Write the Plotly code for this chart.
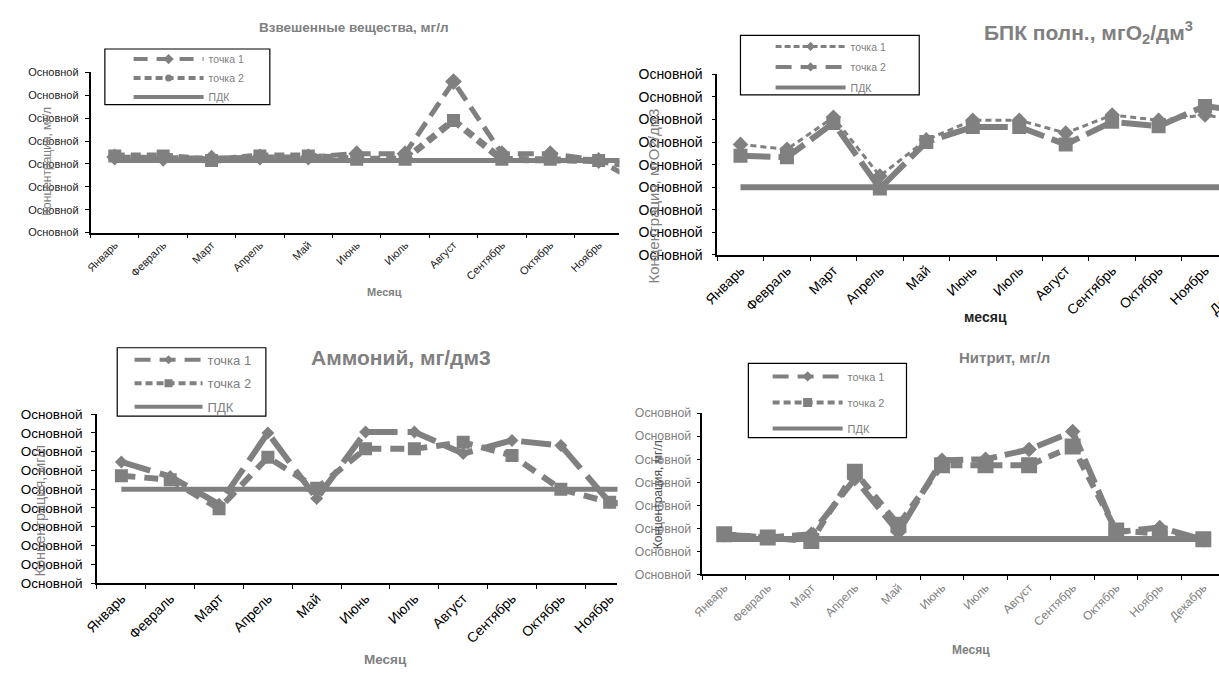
import plotly.graph_objects as go

W, H = 1219, 675

months = ["Январь", "Февраль", "Март", "Апрель", "Май", "Июнь",
          "Июль", "Август", "Сентябрь", "Октябрь", "Ноябрь", "Декабрь"]
tick_word = "Основной"
series_names = ["точка 1", "точка 2", "ПДК"]

# Panel 1: Взвешенные вещества, мг/л
vv_t1 = [3.3, 3.25, 3.25, 3.3, 3.3, 3.45, 3.45, 6.6, 3.45, 3.45, 3.15, 2.0]
vv_t2 = [3.35, 3.35, 3.15, 3.35, 3.35, 3.2, 3.2, 4.9, 3.2, 3.2, 3.15, 2.8]
vv_pdk = [3.15, 3.15, 3.15, 3.15, 3.15, 3.15, 3.15, 3.15, 3.15, 3.15, 3.15, 3.15]
vv_yticks = [0, 1, 2, 3, 4, 5, 6, 7]

# Panel 2: БПК полн., мгО2/дм3
bpk_t1 = [4.9, 4.68, 6.1, 3.5, 5.1, 5.97, 5.97, 5.4, 6.2, 5.97, 6.2, 5.85]
bpk_t2 = [4.4, 4.33, 5.85, 2.95, 5.0, 5.67, 5.67, 4.9, 5.9, 5.7, 6.6, 6.3]
bpk_pdk = [3.0, 3.0, 3.0, 3.0, 3.0, 3.0, 3.0, 3.0, 3.0, 3.0, 3.0, 3.0]
bpk_yticks = [0, 1, 2, 3, 4, 5, 6, 7, 8]

# Panel 3: Аммоний, мг/дм3
am_t1 = [6.45, 5.68, 4.2, 8.0, 4.5, 8.05, 8.05, 6.9, 7.6, 7.33, 4.3, 4.0]
am_t2 = [5.72, 5.5, 3.96, 6.7, 5.05, 7.15, 7.15, 7.5, 6.8, 5.0, 4.3, 4.0]
am_pdk = [5.0, 5.0, 5.0, 5.0, 5.0, 5.0, 5.0, 5.0, 5.0, 5.0, 5.0, 5.0]
am_yticks = [0, 1, 2, 3, 4, 5, 6, 7, 8, 9]

# Panel 4: Нитрит, мг/л
ni_t1 = [1.72, 1.6, 1.74, 4.15, 1.83, 4.95, 5.0, 5.42, 6.2, 1.83, 2.03, 1.5]
ni_t2 = [1.74, 1.6, 1.44, 4.45, 2.15, 4.74, 4.74, 4.74, 5.55, 1.9, 1.77, 1.52]
ni_pdk = [1.53, 1.53, 1.53, 1.53, 1.53, 1.53, 1.53, 1.53, 1.53, 1.53, 1.53, 1.53]
ni_yticks = [0, 1, 2, 3, 4, 5, 6, 7]

GRAY = "#808080"
FONT = "Liberation Sans, Arial, sans-serif"


def px(x):
    return x / W


def py(y):
    return 1 - y / H


fig = go.Figure()


def add_series(ax, vals, width, dash, symbol, msize):
    mode = "lines+markers" if symbol else "lines"
    tr = dict(x=months, y=vals, mode=mode, showlegend=False,
              line=dict(color=GRAY, width=width, dash=dash),
              xaxis="x" + ax, yaxis="y" + ax, hoverinfo="skip")
    if symbol:
        tr["marker"] = dict(symbol=symbol, size=msize, color=GRAY)
    fig.add_trace(go.Scatter(**tr))


def add_key(ax, leg, grp, name, width, dash, symbol, msize):
    # legend-only entry (draws nothing in the plot area)
    mode = "lines+markers" if symbol else "lines"
    tr = dict(x=[None], y=[None], name=name, mode=mode,
              line=dict(color=GRAY, width=width, dash=dash),
              xaxis="x" + ax, yaxis="y" + ax, legend=leg,
              legendgroup=grp, showlegend=True)
    if symbol:
        tr["marker"] = dict(symbol=symbol, size=msize, color=GRAY)
    fig.add_trace(go.Scatter(**tr))


# Panel 1
add_series("", vv_t1, 5, "16px,8px", "diamond", 13)
add_series("", vv_t2, 7, "10px,6px", "square", 13)
add_series("", vv_pdk, 5, "solid", None, 0)
add_key("", "legend", "a1", series_names[0], 4, "14px,9px", "diamond", 8)
add_key("", "legend", "a2", series_names[1], 4, "7px,4px", "circle", 7)
add_key("", "legend", "a3", series_names[2], 4, "solid", None, 0)
# Panel 2
add_series("2", bpk_t1, 3, "6px,4px", "diamond", 12)
add_series("2", bpk_t2, 6, "30px,8px", "square", 14)
add_series("2", bpk_pdk, 6, "solid", None, 0)
add_key("2", "legend2", "b1", series_names[0], 3, "6px,3px", "diamond", 7)
add_key("2", "legend2", "b2", series_names[1], 4, "16px,9px", "diamond", 7)
add_key("2", "legend2", "b3", series_names[2], 4, "solid", None, 0)
# Panel 3
add_series("3", am_t1, 6, "30px,10px", "diamond", 10)
add_series("3", am_t2, 6, "14px,9px", "square", 13)
add_series("3", am_pdk, 5, "solid", None, 0)
add_key("3", "legend3", "c1", series_names[0], 4, "16px,9px", "diamond", 7)
add_key("3", "legend3", "c2", series_names[1], 4, "7px,4px", "square", 8)
add_key("3", "legend3", "c3", series_names[2], 4, "solid", None, 0)
# Panel 4
add_series("4", ni_t1, 6, "26px,8px", "diamond", 12)
add_series("4", ni_t2, 6, "12px,8px", "square", 16)
add_series("4", ni_pdk, 6, "solid", None, 0)
add_key("4", "legend4", "d1", series_names[0], 4, "16px,9px", "diamond", 8)
add_key("4", "legend4", "d2", series_names[1], 4, "7px,4px", "square", 9)
add_key("4", "legend4", "d3", series_names[2], 4, "solid", None, 0)


def xax(x0, x1, rng, size, color, anchor):
    return dict(domain=[px(x0), px(x1)], type="category",
                categoryorder="array", categoryarray=months,
                range=rng, tickson="boundaries", ticks="outside",
                ticklen=4, tickcolor="black", showline=True,
                linecolor="black", linewidth=1.5, tickangle=-45,
                tickfont=dict(size=size, color=color, family=FONT),
                showgrid=False, zeroline=False, anchor=anchor)


def yax(ybot, ytop, ticks, size, color, anchor, standoff):
    return dict(domain=[py(ybot), py(ytop)], range=[ticks[0], ticks[-1]],
                tickmode="array", tickvals=ticks,
                ticktext=[tick_word for _ in ticks],
                ticks="outside", ticklen=4, tickcolor="black",
                ticklabelstandoff=standoff,
                showline=True, linecolor="black", linewidth=1.5,
                tickfont=dict(size=size, color=color, family=FONT),
                showgrid=False, zeroline=False, anchor=anchor)


def leg(x, y, size, iw, gap):
    return dict(x=px(x), y=py(y), xanchor="left", yanchor="top",
                borderwidth=0, bgcolor="rgba(0,0,0,0)",
                font=dict(size=size, color=GRAY, family=FONT),
                itemwidth=iw, tracegroupgap=gap, traceorder="grouped",
                itemclick=False, itemdoubleclick=False)


def box(x0, y0, x1, y1):
    return dict(type="rect", xref="paper", yref="paper",
                x0=px(x0), x1=px(x1), y0=py(y0), y1=py(y1),
                line=dict(color="black", width=1.2), fillcolor="white",
                layer="above")


def ann(text, x, y, size, color, bold=True, angle=0):
    t = "<b>" + text + "</b>" if bold else text
    return dict(text=t, x=px(x), y=py(y), xref="paper", yref="paper",
                showarrow=False, xanchor="center", yanchor="middle",
                textangle=angle, font=dict(size=size, color=color, family=FONT))


annotations = [
    ann("Взвешенные вещества, мг/л", 343, 20, 13.5, GRAY),
    ann("Месяц", 374, 291, 11, GRAY),
    ann("Концентрация, мг/л", 33, 157, 12, GRAY, bold=False, angle=-90),
    ann("БПК полн., мгО<sub>2</sub>/дм<sup>3</sup>", 1087, 25, 21, GRAY),
    ann("месяц", 983, 317, 14, "#222222"),
    ann("Концентрация, мгО2/дм3", 646, 193, 15, GRAY, bold=False, angle=-90),
    ann(months[11], 1232, 291, 14, "black", bold=False, angle=-45),
    ann("Аммоний, мг/дм3", 391, 358, 21, GRAY),
    ann("Месяц", 375, 667, 13.5, GRAY),
    ann("Концентрация, мг/л", 25, 515, 14.5, GRAY, bold=False, angle=-90),
    ann("Нитрит, мг/л", 1002, 358, 15, GRAY),
    ann("Месяц", 968, 658, 12, GRAY),
    ann("Концентрация, мг/л", 651, 498, 12, "#505050", bold=False, angle=-90),
]

shapes = [
    box(91, 42, 258, 99),
    box(734.5, 28, 915.5, 89),
    box(103.5, 348, 254, 418),
    box(742.5, 364, 902.6, 440),
]

fig.update_layout(
    width=W, height=H, autosize=False,
    margin=dict(l=0, r=0, t=0, b=0),
    paper_bgcolor="white", plot_bgcolor="white",
    font=dict(family=FONT),
    showlegend=True,
    xaxis=xax(76.5, 612, [-0.5, 10.43], 11, "#222222", "y"),
    yaxis=yax(230, 66, vv_yticks, 11, "#222222", "x", 4),
    xaxis2=xax(711, 1219, [-0.5, 10.3], 14, "black", "y2"),
    yaxis2=yax(253, 68, bpk_yticks, 14, "black", "x2", 6),
    xaxis3=xax(83, 610, [-0.5, 10.16], 14, "black", "y3"),
    yaxis3=yax(589, 416, am_yticks, 13.5, "black", "x3", 6),
    xaxis4=xax(696, 1219, [-0.5, 11.36], 12, GRAY, "y4"),
    yaxis4=yax(580, 415, ni_yticks, 12.3, GRAY, "x4", 3),
    legend=leg(115, 37.5, 10.5, 70, 0),
    legend2=leg(765, 24.5, 10.5, 70, 1.5),
    legend3=leg(116, 345, 13, 68, 3.6),
    legend4=leg(762, 362.5, 11, 70, 7),
    annotations=annotations,
    shapes=shapes,
)

fig.write_html("out.html", config={"displayModeBar": False},
               post_script="document.body.style.margin='0';")
